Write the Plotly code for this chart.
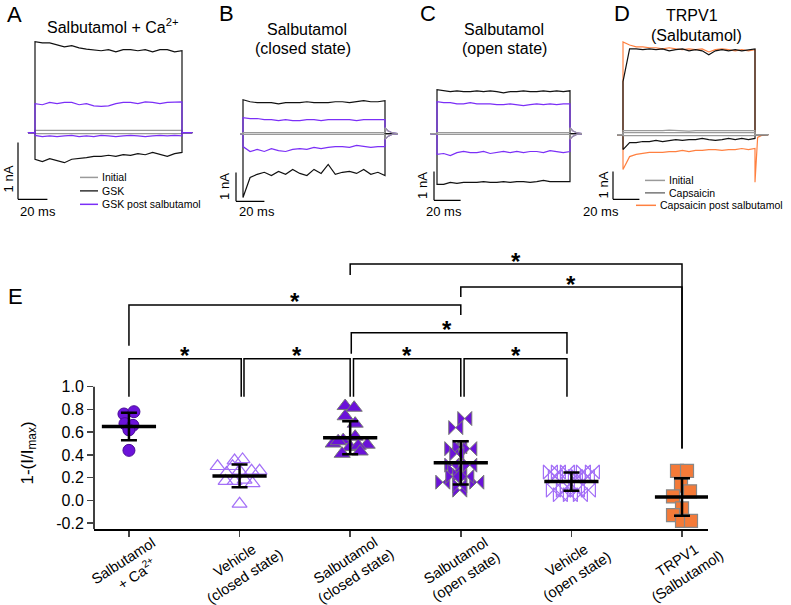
import plotly.graph_objects as go

W, H = 791, 605

# ---------------- Panel E data ----------------
categories = ["Salbutamol<br>  + Ca<sup>2+</sup>", "Vehicle<br>(closed state)", "Salbutamol<br>(closed state)",
              "Salbutamol<br>(open state)", "Vehicle<br>(open state)", "TRPV1<br>(Salbutamol)"]
sal_ca = [0.76, 0.78, 0.675, 0.66, 0.62, 0.44]
veh_closed = [0.30, 0.24, 0.35, 0.36, 0.30, 0.26, 0.26, 0.26, 0.17, 0.17, 0.18, 0.15, -0.03]
sal_closed = [0.83, 0.815, 0.74, 0.675, 0.50, 0.53, 0.56, 0.49, 0.47, 0.48, 0.41, 0.43, 0.52]
sal_open = [0.72, 0.64, 0.455, 0.47, 0.455, 0.41, 0.31, 0.31, 0.26, 0.22, 0.16, 0.16, 0.21, 0.09, 0.13, 0.21]
veh_open = [0.25, 0.25, 0.25, 0.25, 0.25, 0.21, 0.21, 0.21, 0.21, 0.12, 0.09, 0.09, 0.09, 0.09, 0.05, 0.05, 0.05]
trpv1 = [0.26, 0.26, 0.13, 0.08, 0.035, -0.07, -0.13, -0.18, -0.18]
means = [0.65, 0.215, 0.55, 0.33, 0.165, 0.03]
sds = [0.12, 0.10, 0.145, 0.19, 0.08, 0.165]
yticks = [-0.2, 0.0, 0.2, 0.4, 0.6, 0.8, 1.0]
ytick_text = ["-0.2", "0.0", "0.2", "0.4", "0.6", "0.8", "1.0"]
comparisons = [(0, 1), (1, 2), (2, 3), (3, 4), (2, 4), (0, 3), (3, 5), (2, 5)]

# ---------------- Trace data (nA, sampled every 5 ms over 100 ms step) ----------------
T = [0, 5, 10, 15, 20, 25, 30, 35, 40, 45, 50, 55, 60, 65, 70, 75, 80, 85, 90, 95, 100]

A_gsk_pos = [1.60, 1.58, 1.58, 1.54, 1.51, 1.53, 1.49, 1.47, 1.46, 1.44, 1.46, 1.42, 1.46, 1.46, 1.44, 1.46, 1.42, 1.46, 1.46, 1.42, 1.44]
A_gsk_neg = [-0.47, -0.51, -0.46, -0.49, -0.53, -0.47, -0.46, -0.44, -0.42, -0.42, -0.40, -0.42, -0.39, -0.40, -0.37, -0.39, -0.35, -0.39, -0.42, -0.37, -0.35]
A_post_pos = [0.51, 0.49, 0.53, 0.51, 0.53, 0.53, 0.49, 0.51, 0.47, 0.46, 0.47, 0.51, 0.53, 0.53, 0.51, 0.54, 0.53, 0.51, 0.53, 0.53, 0.54]
A_post_neg = [-0.05, -0.07, -0.06, -0.07, -0.06, -0.05, -0.07, -0.06, -0.07, -0.05, -0.06, -0.07, -0.06, -0.05, -0.06, -0.07, -0.06, -0.05, -0.06, -0.05, -0.06]
A_init_pos = [0.04, 0.04, 0.03, 0.04, 0.04, 0.03, 0.04, 0.04, 0.04, 0.03, 0.04, 0.04, 0.03, 0.04, 0.04, 0.04, 0.03, 0.04, 0.04, 0.03, 0.04]
A_init_neg = [-0.02, -0.02, -0.03, -0.02, -0.02, -0.02, -0.03, -0.02, -0.02, -0.02, -0.03, -0.02, -0.02, -0.02, -0.03, -0.02, -0.02, -0.02, -0.03, -0.02, -0.02]

B_gsk_pos = [1.17, 1.10, 1.07, 1.07, 1.07, 1.03, 1.07, 1.07, 1.07, 1.10, 1.07, 1.07, 1.07, 1.10, 1.10, 1.07, 1.10, 1.14, 1.10, 1.10, 1.14]
B_gsk_neg = [-2.21, -1.52, -1.41, -1.34, -1.45, -1.31, -1.41, -1.24, -1.38, -1.45, -1.24, -1.38, -1.07, -1.41, -1.34, -1.31, -1.38, -1.24, -1.41, -1.34, -1.45]
B_post_pos = [0.55, 0.52, 0.52, 0.48, 0.48, 0.45, 0.48, 0.45, 0.45, 0.48, 0.48, 0.45, 0.48, 0.48, 0.48, 0.48, 0.45, 0.48, 0.48, 0.48, 0.48]
B_post_neg = [-0.45, -0.62, -0.55, -0.62, -0.52, -0.59, -0.62, -0.55, -0.52, -0.55, -0.48, -0.52, -0.48, -0.45, -0.45, -0.48, -0.41, -0.45, -0.48, -0.45, -0.45]
B_init_pos = [0.03, 0.03, 0.02, 0.03, 0.03, 0.03, 0.02, 0.03, 0.03, 0.03, 0.02, 0.03, 0.03, 0.03, 0.02, 0.03, 0.03, 0.03, 0.02, 0.03, 0.03]
B_init_neg = [-0.03, -0.03, -0.02, -0.03, -0.03, -0.03, -0.02, -0.03, -0.03, -0.03, -0.02, -0.03, -0.03, -0.03, -0.02, -0.03, -0.03, -0.03, -0.02, -0.03, -0.03]

C_gsk_pos = [1.52, 1.48, 1.45, 1.48, 1.45, 1.45, 1.48, 1.45, 1.48, 1.45, 1.41, 1.45, 1.45, 1.48, 1.45, 1.45, 1.48, 1.45, 1.48, 1.45, 1.48]
C_gsk_neg = [-1.76, -1.76, -1.69, -1.72, -1.69, -1.69, -1.69, -1.66, -1.69, -1.69, -1.66, -1.69, -1.66, -1.66, -1.69, -1.66, -1.62, -1.66, -1.66, -1.66, -1.66]
C_post_pos = [1.10, 1.07, 1.07, 1.03, 1.03, 1.07, 1.03, 1.03, 1.03, 1.00, 1.00, 1.03, 1.00, 0.97, 1.00, 1.03, 1.00, 1.03, 1.00, 1.03, 1.03]
C_post_neg = [-0.72, -0.69, -0.76, -0.66, -0.62, -0.66, -0.66, -0.62, -0.69, -0.66, -0.62, -0.66, -0.62, -0.66, -0.62, -0.62, -0.66, -0.59, -0.62, -0.66, -0.62]
C_init_pos = [0.03, 0.03, 0.02, 0.03, 0.03, 0.03, 0.02, 0.03, 0.03, 0.03, 0.02, 0.03, 0.03, 0.03, 0.02, 0.03, 0.03, 0.03, 0.02, 0.03, 0.03]
C_init_neg = [-0.03, -0.03, -0.02, -0.03, -0.03, -0.03, -0.02, -0.03, -0.03, -0.03, -0.02, -0.03, -0.03, -0.03, -0.02, -0.03, -0.03, -0.03, -0.02, -0.03, -0.03]

D_caps_pos = [1.90, 3.07, 3.07, 3.04, 3.07, 3.04, 3.07, 3.00, 3.04, 3.07, 3.00, 3.04, 3.00, 2.86, 3.00, 3.04, 3.00, 3.04, 3.00, 3.04, 3.07]
D_caps_neg = [-0.54, -0.29, -0.29, -0.25, -0.25, -0.21, -0.25, -0.21, -0.18, -0.21, -0.18, -0.18, -0.14, -0.18, -0.21, -0.18, -0.14, -0.18, -0.14, -0.18, -0.14]
D_post_pos = [3.32, 3.21, 3.14, 3.14, 3.11, 3.11, 3.07, 3.11, 3.07, 3.04, 3.07, 3.04, 3.07, 2.96, 3.04, 3.07, 3.04, 3.00, 3.04, 3.00, 3.04]
D_post_neg = [-1.25, -0.79, -0.71, -0.68, -0.64, -0.64, -0.64, -0.61, -0.61, -0.57, -0.61, -0.57, -0.57, -0.54, -0.54, -0.57, -0.54, -0.54, -0.50, -0.54, -0.50]
D_init_pos = [0.14, 0.14, 0.12, 0.14, 0.14, 0.12, 0.14, 0.16, 0.14, 0.14, 0.12, 0.14, 0.14, 0.14, 0.12, 0.14, 0.14, 0.12, 0.14, 0.14, 0.14]
D_init_mid = [0.07, 0.07, 0.06, 0.07, 0.07, 0.06, 0.07, 0.07, 0.07, 0.06, 0.07, 0.07, 0.07, 0.06, 0.07, 0.07, 0.06, 0.07, 0.07, 0.06, 0.07]
D_init_neg = [-0.04, -0.04, -0.03, -0.04, -0.04, -0.04, -0.03, -0.04, -0.04, -0.04, -0.03, -0.04, -0.04, -0.04, -0.03, -0.04, -0.04, -0.04, -0.03, -0.04, -0.04]

# tails after the step (times relative to step start, ms)
TAIL_T = [100, 102, 105, 109]
tail_zero = [0.0, 0.0, 0.0, 0.0]
tail_B_pos = [0.20, 0.10, 0.03, 0.0]
tail_B_neg = [-0.20, -0.10, -0.03, 0.0]
tail_D_neg = [-1.71, -0.10, -0.03, 0.0]

# ---------------- Styles ----------------
PURPLE_TR = "#7b2ff7"
GRAY_TR = "#9a9a9a"
ORANGE = "#ff8040"
PURPLE_F = "#6b12d9"
PURPLE_O = "#a36ff7"
FONT = "Arial, Liberation Sans, sans-serif"

fig = go.Figure()


def px(x):
    return x / W


def py(y):
    return 1 - y / H


def ann(text, x, y, size, xanchor="center", yanchor="middle", angle=0, xref="paper", yref="paper", **kw):
    return dict(text=text, xref=xref, yref=yref, x=x, y=y, xanchor=xanchor, yanchor=yanchor,
                textangle=angle, showarrow=False, font=dict(size=size, family=FONT, color="black"), **kw)


# ---------------- Top panels: axes geometry ----------------
# (axis suffix, left px, right px, step start px, px per ms, baseline px, px per nA)
panels = {
    "A": (2, 0, 200, 35, 1.47, 133, 57),
    "B": (3, 200, 400, 243, 1.42, 134, 29),
    "C": (4, 400, 600, 437, 1.33, 134, 29),
    "D": (5, 595, 791, 623, 1.32, 135, 28),
}
TOP, BOT = 30, 225
layout_axes = {}
for key, (n, L, R, t0, ppms, base, ppn) in panels.items():
    layout_axes[f"xaxis{n}"] = dict(domain=[px(L), px(R)], range=[(L - t0) / ppms, (R - t0) / ppms],
                                    visible=False, anchor=f"y{n}")
    layout_axes[f"yaxis{n}"] = dict(domain=[py(BOT), py(TOP)], range=[(base - BOT) / ppn, (base - TOP) / ppn],
                                    visible=False, anchor=f"x{n}")


def add_sweep(n, vals, color, pre, post, tail=None, width=1.2):
    tail = tail if tail is not None else tail_zero
    t = [pre, 0] + T + TAIL_T[:-1] + [post]
    y = [0, 0] + vals + tail
    fig.add_trace(go.Scatter(x=t, y=y, mode="lines", line=dict(color=color, width=width),
                             xaxis=f"x{n}", yaxis=f"y{n}", showlegend=False, hoverinfo="skip"))


# Panel A
for v in (A_init_pos, A_init_neg):
    add_sweep(2, v, GRAY_TR, -4.8, 107)
add_sweep(2, A_gsk_pos, "#111111", -4.8, 107)
add_sweep(2, A_gsk_neg, "#111111", -4.8, 107)
add_sweep(2, A_post_pos, PURPLE_TR, -4.8, 107)
add_sweep(2, A_post_neg, PURPLE_TR, -4.8, 107)
# Panel B
add_sweep(3, B_gsk_pos, "#111111", -2, 109)
add_sweep(3, B_gsk_neg, "#111111", -2, 109)
add_sweep(3, B_post_pos, PURPLE_TR, -2, 109, tail_B_pos)
add_sweep(3, B_post_neg, PURPLE_TR, -2, 109, tail_B_neg)
add_sweep(3, B_init_pos, GRAY_TR, -2, 109, tail_B_pos)
add_sweep(3, B_init_neg, GRAY_TR, -2, 109, tail_B_neg)
# Panel C
add_sweep(4, C_gsk_pos, "#111111", -5, 109)
add_sweep(4, C_gsk_neg, "#111111", -5, 109)
add_sweep(4, C_post_pos, PURPLE_TR, -5, 109, tail_B_pos)
add_sweep(4, C_post_neg, PURPLE_TR, -5, 109, tail_B_neg)
add_sweep(4, C_init_pos, GRAY_TR, -5, 109, tail_B_pos)
add_sweep(4, C_init_neg, GRAY_TR, -5, 109, tail_B_neg)
# Panel D
add_sweep(5, D_post_pos, ORANGE, -4.5, 110)
add_sweep(5, D_post_neg, ORANGE, -4.5, 110, tail_D_neg)
add_sweep(5, D_caps_pos, "#111111", -4.5, 110)
add_sweep(5, D_caps_neg, "#111111", -4.5, 110)
for v in (D_init_pos, D_init_mid, D_init_neg):
    add_sweep(5, v, GRAY_TR, -4.5, 110)

shapes = []
annotations = []

# Scale bars: 1 nA vertical, 20 ms horizontal (positioned relative to each panel's axes)
scalebar_pos = {  # panel: (bar x px, bar bottom px, "1 nA" x px, "20 ms" x px)
    "A": (18, 200, 8, 38), "B": (236, 202, 225, 257), "C": (434, 201, 423, 444), "D": (613, 200, 603, 601)}
for key, (bx, bb, lx, mx_) in scalebar_pos.items():
    n, L, R, t0, ppms, base, ppn = panels[key]
    tx = (bx - t0) / ppms
    ty = (base - bb) / ppn
    shapes.append(dict(type="line", xref=f"x{n}", yref=f"y{n}", x0=tx, x1=tx, y0=ty, y1=ty + 1,
                       line=dict(color="black", width=1.2)))
    shapes.append(dict(type="line", xref=f"x{n}", yref=f"y{n}", x0=tx, x1=tx + 20, y0=ty, y1=ty,
                       line=dict(color="black", width=1.2)))
    annotations.append(ann("1 nA", px(lx), py(bb - 0.5 * ppn if ppn < 40 else 180), 13, angle=-90))
    annotations.append(ann("20 ms", px(mx_), py(212), 13))

# Panel titles and letters
for txt, x, y in [("A", 14, 15), ("B", 227, 14), ("C", 428, 14), ("D", 622, 14), ("E", 15, 297)]:
    annotations.append(ann(txt, px(x), py(y), 22))
for txt, x, y in [("Salbutamol + Ca<sup>2+</sup>", 113, 26), ("Salbutamol", 307, 30), ("(closed state)", 303, 49),
                  ("Salbutamol", 504, 30), ("(open state)", 504, 49), ("TRPV1", 692, 16), ("(Salbutamol)", 696, 36)]:
    annotations.append(ann(txt, px(x), py(y), 16))

# Legends
legA = [("Initial", GRAY_TR), ("GSK", "#333333"), ("GSK post salbutamol", PURPLE_TR)]
for i, (txt, col) in enumerate(legA):
    yy = 178 + i * 13.5
    shapes.append(dict(type="line", xref="paper", yref="paper", x0=px(80), x1=px(98), y0=py(yy), y1=py(yy),
                       line=dict(color=col, width=1.5)))
    annotations.append(ann(txt, px(100), py(yy), 10.5, xanchor="left"))
legD = [("Initial", GRAY_TR, 645), ("Capsaicin", "#777777", 645), ("Capsaicin post salbutamol", ORANGE, 636)]
for i, (txt, col, lx) in enumerate(legD):
    yy = 181 + i * 12.5
    shapes.append(dict(type="line", xref="paper", yref="paper", x0=px(lx), x1=px(lx + 20), y0=py(yy), y1=py(yy),
                       line=dict(color=col, width=1.5)))
    annotations.append(ann(txt, px(lx + 22), py(yy), 10.5, xanchor="left"))

# ---------------- Panel E ----------------
groups = [sal_ca, veh_closed, sal_closed, sal_open, veh_open, trpv1]
# horizontal jitter of each point (px)
jitter_px = [
    [-5, 5, -4, 4, 0, 0],
    [-22, -13, -5, 3, -7, 0, 12, 20, -14, -5, 5, 13, 0],
    [-5, 4, -5, 5, -17, -7, 5, 17, 0, 8, -8, 10, -12],
    [4, -5, -9, -1, 9, -4, -9, 9, -6, -1, -18, 16, 6, -1, -1, -8],
    [-21, -13, -4, 12, 21, -16, 4, 7, 16, -4, -18, -8, 6, 17, -11, -1, 9],
    [-5, 5, -1, 8, -9, 0, -9, 0, 9],
]
marker_styles = [
    dict(symbol="circle", size=12, color=PURPLE_F, line=dict(color="#4a0a99", width=1)),
    dict(symbol="triangle-up-open", size=13, color=PURPLE_O, line=dict(color=PURPLE_O, width=1.2)),
    dict(symbol="triangle-up", size=14, color=PURPLE_F, line=dict(color="#777777", width=1)),
    dict(symbol="bowtie", size=14, color=PURPLE_F, line=dict(color="#777777", width=1)),
    dict(symbol="bowtie-open", size=14, color=PURPLE_O, line=dict(color=PURPLE_O, width=1.2)),
    dict(symbol="square", size=13, color="#f47a38", line=dict(color="#888888", width=1.2)),
]
CAT_PX = 110.6
for i, (vals, jit, ms) in enumerate(zip(groups, jitter_px, marker_styles)):
    fig.add_trace(go.Scatter(x=[i + j / CAT_PX for j in jit], y=vals, mode="markers", marker=ms,
                             xaxis="x", yaxis="y", showlegend=False, hoverinfo="skip"))

# mean lines
HW = 0.245
mx, my = [], []
for i, m in enumerate(means):
    mx += [i - HW, i + HW, None]
    my += [m, m, None]
fig.add_trace(go.Scatter(x=mx, y=my, mode="lines", line=dict(color="black", width=3.5),
                         xaxis="x", yaxis="y", showlegend=False, hoverinfo="skip"))
fig.add_trace(go.Scatter(x=list(range(len(means))), y=means, mode="markers",
                         marker=dict(size=1, color="black", opacity=0),
                         error_y=dict(type="data", array=sds, color="black", thickness=2.5, width=8),
                         xaxis="x", yaxis="y", showlegend=False, hoverinfo="skip"))

# y axis line (only up to 1.0)
shapes.append(dict(type="line", xref="x domain", yref="y", x0=0, x1=0, y0=-0.254, y1=1.0,
                   line=dict(color="black", width=1.5)))


def vy(ypx):
    return (502 - ypx) / 114.0


# significance brackets: line px, left leg bottom px, right leg bottom px, left dx, right dx, star x (cat units)
bracket_geom = {
    (0, 1): (360, 398, 398, 0, 0.015, None),
    (1, 2): (360, 398, 398, 0.04, 0.0, None),
    (2, 3): (360, 398, 398, 0.03, 0.0, None),
    (3, 4): (360, 398, 398, 0.03, -0.04, None),
    (2, 4): (334, 355, 355, 0.01, -0.04, 2.875),
    (0, 3): (306, 347, 316, 0.0, 0.0, None),
    (3, 5): (288, 298, 450, 0.0, 0.0, None),
    (2, 5): (265, 276, 450, 0.0, 0.0, None),
}
for (a, b) in comparisons:
    ly, lb, rb, ldx, rdx, sx = bracket_geom[(a, b)]
    xa, xb = a + ldx, b + rdx
    shapes.append(dict(type="path", xref="x", yref="y",
                       path=f"M {xa},{vy(lb)} L {xa},{vy(ly)} L {xb},{vy(ly)} L {xb},{vy(rb)}",
                       line=dict(color="black", width=1.5)))
    annotations.append(ann("<b>*</b>", (xa + xb) / 2 if sx is None else sx, vy(ly - 3), 24,
                           xref="x", yref="y"))

# category labels (rotated)
for i, c in enumerate(categories):
    annotations.append(ann(c, i, py(570), 14.5, angle=-33, xref="x"))

# y axis title
annotations.append(ann("1-(I/I<sub>max</sub>)", px(29), py(455), 17, angle=-90))

fig.update_layout(
    width=W, height=H, margin=dict(l=0, r=0, t=0, b=0),
    paper_bgcolor="white", plot_bgcolor="white",
    font=dict(family=FONT, color="black"),
    xaxis=dict(domain=[px(94), px(708)], range=[-0.316, 5.235], showline=True, linecolor="black", linewidth=1.5,
               ticks="outside", ticklen=6, tickwidth=1.5, tickcolor="#444", tickvals=list(range(6)),
               showticklabels=False, showgrid=False, zeroline=False, anchor="y"),
    yaxis=dict(domain=[py(531), py(250)], range=[-0.254, 2.21], showline=False, ticks="outside", ticklen=6,
               tickwidth=1.5, tickcolor="#444", tickvals=yticks, ticktext=ytick_text,
               tickfont=dict(size=16, family=FONT), showgrid=False, zeroline=False, anchor="x"),
    shapes=shapes, annotations=annotations,
    **layout_axes,
)

fig.write_html("out.html", config={"displayModeBar": False, "staticPlot": True},
               post_script="document.body.style.margin='0px';")
